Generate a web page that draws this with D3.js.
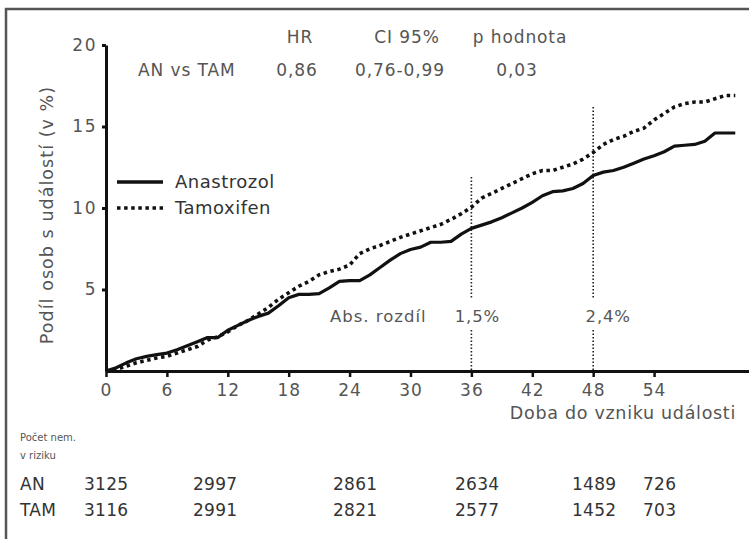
<!DOCTYPE html>
<html><head><meta charset="utf-8">
<script src="https://cdn.jsdelivr.net/npm/d3@7"></script>
<style>
html,body{margin:0;padding:0;background:#fff;}
svg{display:block;font-family:"DejaVu Sans",Verdana,sans-serif;}
</style></head>
<body>
<script>
// ---- data ----
const months = [0,1,2,3,4,5,6,7,8,9,10,11,12,13,14,15,16,17,18,19,20,21,22,23,24,25,26,27,28,29,30,31,32,33,34,35,36,37,38,39,40,41,42,43,44,45,46,47,48,49,50,51,52,53,54,55,56,57,58,59,60,61,62];
const anastrozol = [0,0.2,0.5,0.75,0.9,1.0,1.1,1.3,1.55,1.8,2.05,2.05,2.5,2.8,3.1,3.35,3.55,4.0,4.5,4.7,4.7,4.75,5.1,5.5,5.55,5.55,5.9,6.35,6.8,7.2,7.45,7.6,7.9,7.9,7.95,8.4,8.75,8.95,9.15,9.4,9.7,10.0,10.35,10.75,11.0,11.05,11.2,11.5,12.0,12.2,12.3,12.5,12.75,13.0,13.2,13.45,13.8,13.85,13.9,14.1,14.6,14.6,14.6];
const tamoxifen = [0,0.1,0.3,0.5,0.65,0.8,0.9,1.1,1.3,1.5,1.9,2.1,2.4,2.8,3.1,3.5,3.9,4.4,4.8,5.2,5.5,5.9,6.1,6.25,6.5,7.2,7.5,7.7,7.95,8.2,8.4,8.6,8.8,9.0,9.3,9.65,10.05,10.6,10.9,11.2,11.5,11.8,12.1,12.3,12.3,12.5,12.7,13.0,13.4,13.9,14.2,14.4,14.7,14.9,15.4,15.8,16.2,16.4,16.5,16.5,16.7,16.9,16.9];
const xTicks = [0,6,12,18,24,30,36,42,48,54];
const yTicks = [5,10,15,20];
const refMonths = [36,48];
const refLabels = ["1,5%","2,4%"];
const riskMonths = [0,12,24,36,48,54];
const riskAN = [3125,2997,2861,2634,1489,726];
const riskTAM = [3116,2991,2821,2577,1452,703];
const statHeaders = ["HR","CI 95%","p hodnota"];
const statValues = ["0,86","0,76-0,99","0,03"];

// ---- chart ----
const W=749,H=539;
const svg=d3.select("body").append("svg").attr("width",W).attr("height",H);
const gray="#555";

// frame
svg.append("path").attr("d","M6,539 V9 H749").attr("fill","none").attr("stroke","#555").attr("stroke-width",2.5);

const x=d3.scaleLinear().domain([0,63.5]).range([106,750.5]);
const y=d3.scaleLinear().domain([0,20]).range([371,45]);

// reference lines
const refTop={36:177,48:107};
refMonths.forEach((m,i)=>{
  [[refTop[m],298],[330,371]].forEach(([a,b])=>{
    svg.append("line").attr("x1",x(m)).attr("x2",x(m)).attr("y1",a).attr("y2",b)
     .attr("stroke","#222").attr("stroke-width",1.6).attr("stroke-dasharray","1.5,2");
  });
  svg.append("text").attr("x",x(m)+(i==0?6:15)).attr("y",322).attr("text-anchor","middle")
   .attr("font-size",16.5).attr("letter-spacing",0.8).attr("fill",gray).text(refLabels[i]);
});
svg.append("text").attr("x",330).attr("y",322).attr("font-size",16.5).attr("letter-spacing",1)
 .attr("fill",gray).text("Abs. rozdíl");

// lines
const line=d3.line().x(d=>x(d[0])).y(d=>y(d[1]));
svg.append("path").datum(months.map((m,i)=>[m,tamoxifen[i]]))
 .attr("d",line).attr("fill","none").attr("stroke","#111").attr("stroke-width",3.6)
 .attr("stroke-dasharray","3.5,3.6");
svg.append("path").datum(months.map((m,i)=>[m,anastrozol[i]]))
 .attr("d",line).attr("fill","none").attr("stroke","#111").attr("stroke-width",3.2)
 .attr("stroke-linejoin","round");

// axes
const yAxis=svg.append("g").attr("transform","translate(106,0)")
 .call(d3.axisLeft(y).tickValues(yTicks).tickSize(4).tickSizeOuter(0).tickFormat(d3.format("d")));
yAxis.select(".domain").attr("stroke","#111").attr("stroke-width",3);
yAxis.selectAll(".tick line").attr("stroke","#111").attr("stroke-width",3);
yAxis.selectAll("text").attr("font-size",17).attr("letter-spacing",1.5).attr("fill",gray).attr("x",-9).attr("font-family","DejaVu Sans");

const xAxis=svg.append("g").attr("transform","translate(0,371)")
 .call(d3.axisBottom(x).tickValues(xTicks).tickSize(6).tickSizeOuter(0).tickFormat(d3.format("d")));
xAxis.select(".domain").attr("stroke","#111").attr("stroke-width",3);
xAxis.selectAll(".tick line").attr("stroke","#111").attr("stroke-width",2.5);
xAxis.selectAll("text").attr("font-size",17).attr("letter-spacing",1).attr("fill",gray).attr("y",13).attr("font-family","DejaVu Sans");

svg.append("text").attr("x",736).attr("y",419).attr("text-anchor","end").attr("font-size",17.5)
 .attr("letter-spacing",0.7).attr("fill",gray).text("Doba do vzniku události");
svg.append("text").attr("transform","translate(53,215) rotate(-90)").attr("text-anchor","middle")
 .attr("font-size",17.5).attr("letter-spacing",1.05).attr("fill",gray).text("Podíl osob s událostí (v %)");

// legend
const leg=[["Anastrozol",null,182],["Tamoxifen","3.5,3.6",208]];
leg.forEach(([t,dash,ly])=>{
  const l=svg.append("line").attr("x1",117).attr("x2",163).attr("y1",ly).attr("y2",ly)
   .attr("stroke","#111").attr("stroke-width",3.4);
  if(dash) l.attr("stroke-dasharray",dash);
  svg.append("text").attr("x",175).attr("y",ly+6).attr("font-size",18).attr("letter-spacing",0.5).attr("fill","#333").text(t);
});

// stats table
const statX=[300,407,520];
statHeaders.forEach((h,i)=>svg.append("text").attr("x",statX[i]).attr("y",43).attr("text-anchor","middle")
 .attr("font-size",17).attr("letter-spacing",0.9).attr("fill",gray).text(h));
svg.append("text").attr("x",138).attr("y",76).attr("font-size",17).attr("letter-spacing",0.9).attr("fill",gray).text("AN vs TAM");
const valX=[297,400,517];
statValues.forEach((v,i)=>svg.append("text").attr("x",valX[i]).attr("y",76).attr("text-anchor","middle")
 .attr("font-size",17).attr("letter-spacing",0.9).attr("fill",gray).text(v));

// number at risk
svg.append("text").attr("x",20).attr("y",441).attr("font-size",10).attr("fill",gray).text("Počet nem.");
svg.append("text").attr("x",20).attr("y",459).attr("font-size",10).attr("fill",gray).text("v riziku");
const riskX=[84,193,333,455,572,643];
[["AN",riskAN,490],["TAM",riskTAM,516]].forEach(([lab,vals,ry])=>{
  svg.append("text").attr("x",20).attr("y",ry).attr("font-size",17).attr("letter-spacing",0.3).attr("fill","#333").text(lab);
  vals.forEach((v,i)=>svg.append("text").attr("x",riskX[i]).attr("y",ry).attr("font-size",17).attr("letter-spacing",0.3).attr("fill","#333").text(v));
});
</script>
</body></html>
